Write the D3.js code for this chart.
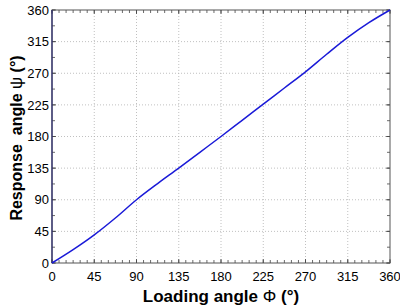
<!DOCTYPE html>
<meta charset="utf-8">
<style>
body { margin: 0; background: #fff; }
text { font-family: "Liberation Sans", Arial, sans-serif; white-space: pre; }
.grid line { stroke: #b0b0b0; stroke-width: 0.8px; stroke-dasharray: 1,2; }
</style>
<body>
<script src="https://d3js.org/d3.v7.min.js"></script>
<script>
var width = 400,
    height = 306;

var margin = {top: 10, right: 10, bottom: 43, left: 52};

// loading angle phi vs response angle psi
var phi = [0, 22.5, 45, 67.5, 90, 112.5, 135, 157.5, 180, 202.5, 225, 247.5, 270, 292.5, 315, 337.5, 360];
var psi = [0, 19, 40, 64, 90, 113, 135, 157.5, 180, 203, 226, 249, 272, 297, 321, 342, 360];
var xTicks = [0, 45, 90, 135, 180, 225, 270, 315, 360];
var yTicks = [0, 45, 90, 135, 180, 225, 270, 315, 360];
var xMinor = d3.range(0, 360.1, 7.5);
var yMinor = d3.range(0, 360.1, 22.5);

var svg = d3.select("body").append("svg")
    .attr("width", width)
    .attr("height", height);

var w = width - margin.left - margin.right,
    h = height - margin.top - margin.bottom;

var x = d3.scaleLinear().domain([0, 360]).range([margin.left, margin.left + w]);
var y = d3.scaleLinear().domain([0, 360]).range([margin.top + h, margin.top]);

// dotted grid
var grid = svg.append("g").attr("class", "grid");
grid.selectAll(".gx")
    .data(xTicks.slice(1, -1))
    .enter().append("line")
      .attr("x1", function(d) { return x(d); })
      .attr("x2", function(d) { return x(d); })
      .attr("y1", y(0))
      .attr("y2", y(360));
grid.selectAll(".gy")
    .data(yTicks.slice(1, -1))
    .enter().append("line")
      .attr("y1", function(d) { return y(d); })
      .attr("y2", function(d) { return y(d); })
      .attr("x1", x(0))
      .attr("x2", x(360));

// ticks pointing inward on all four sides
var tk = svg.append("g").attr("stroke", "#444").attr("stroke-width", 0.8);
function xt(data, len) {
  data.forEach(function(d) {
    tk.append("line").attr("x1", x(d)).attr("x2", x(d)).attr("y1", y(0)).attr("y2", y(0) - len);
    tk.append("line").attr("x1", x(d)).attr("x2", x(d)).attr("y1", y(360)).attr("y2", y(360) + len);
  });
}
function yt(data, len) {
  data.forEach(function(d) {
    tk.append("line").attr("y1", y(d)).attr("y2", y(d)).attr("x1", x(0)).attr("x2", x(0) + len);
    tk.append("line").attr("y1", y(d)).attr("y2", y(d)).attr("x1", x(360)).attr("x2", x(360) - len);
  });
}
xt(xMinor, 3);
xt(xTicks, 4);
yt(yMinor, 3);
yt(yTicks, 4);

// box
svg.append("rect")
    .attr("x", x(0)).attr("y", y(360))
    .attr("width", w).attr("height", h)
    .style("fill", "none")
    .style("stroke", "#555")
    .style("stroke-width", 1);
svg.append("line")
    .attr("x1", x(0)).attr("x2", x(0)).attr("y1", y(0)).attr("y2", y(360))
    .style("stroke", "#2a2a70").style("stroke-width", 1.2);

// tick labels
svg.append("g").selectAll("text")
    .data(xTicks)
    .enter().append("text")
      .attr("x", function(d) { return x(d); })
      .attr("y", y(0) + 18)
      .attr("text-anchor", "middle")
      .style("font-size", "13px")
      .text(function(d) { return d; });
svg.append("g").selectAll("text")
    .data(yTicks)
    .enter().append("text")
      .attr("x", x(0) - 3)
      .attr("y", function(d) { return y(d); })
      .attr("dy", "0.36em")
      .attr("text-anchor", "end")
      .style("font-size", "13px")
      .text(function(d) { return d; });

// curve
var line = d3.line()
    .x(function(d, i) { return x(phi[i]); })
    .y(function(d) { return y(d); })
    .curve(d3.curveMonotoneX);
svg.append("path")
    .datum(psi)
    .attr("d", line)
    .style("fill", "none")
    .style("stroke", "#1a1ad8")
    .style("stroke-width", 1.5);

// axis labels
var xl = svg.append("text")
    .attr("x", x(180))
    .attr("y", 302)
    .attr("text-anchor", "middle")
    .style("font-size", "17px")
    .style("font-weight", "bold");
xl.append("tspan").text("Loading angle ");
xl.append("tspan").style("font-weight", "normal").text("Φ");
xl.append("tspan").text(" (°)");

var yl = svg.append("text")
    .attr("transform", "translate(22,138) rotate(-90)")
    .attr("text-anchor", "middle")
    .style("font-size", "16px")
    .style("font-weight", "bold");
yl.append("tspan").text("Response  angle ");
yl.append("tspan").style("font-weight", "normal").style("font-size", "17px").text("ψ");
yl.append("tspan").text(" (°)");
</script>
</body>
</html>
